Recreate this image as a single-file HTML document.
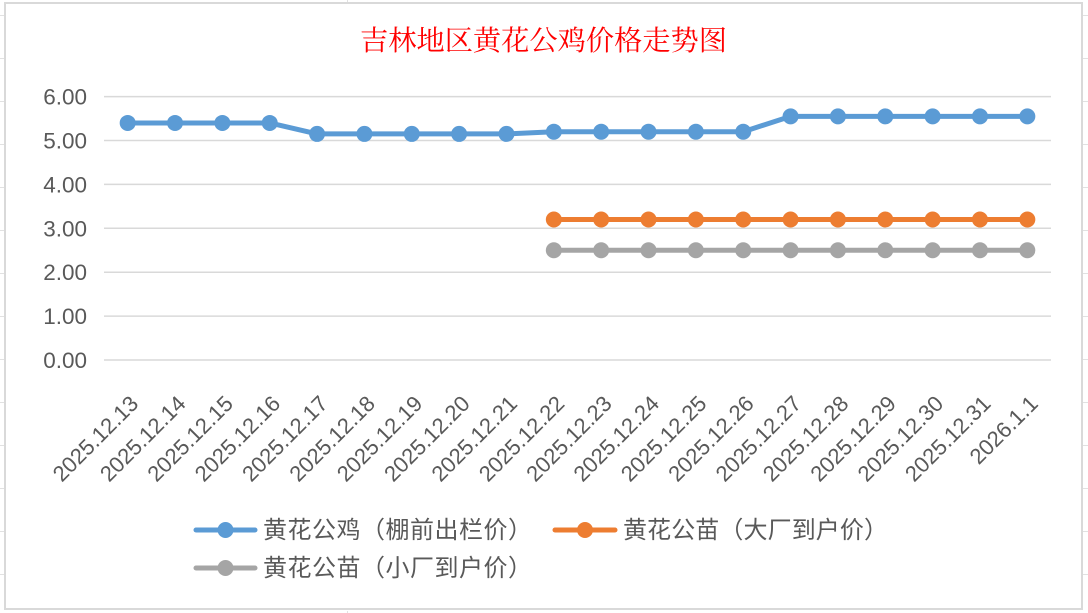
<!DOCTYPE html>
<html>
<head>
<meta charset="utf-8">
<style>
html,body{margin:0;padding:0;background:#fff;}
svg{display:block;}
.ylab{font-family:"Liberation Sans","Noto Sans CJK SC",sans-serif;font-size:22.5px;fill:#595959;}
.xlab{font-family:"Liberation Sans","Noto Sans CJK SC",sans-serif;font-size:22px;fill:#595959;}
.leg{font-family:"Liberation Sans","Noto Sans CJK SC",sans-serif;font-size:24px;fill:#595959;}
.title{font-family:"Liberation Serif","Noto Serif CJK SC",serif;font-size:28px;fill:#ff0000;}
</style>
</head>
<body>
<svg width="1088" height="613" viewBox="0 0 1088 613" xmlns="http://www.w3.org/2000/svg">
<g stroke="#e1e1e1" stroke-width="1">
<line x1="0" y1="15.5" x2="4" y2="15.5"/><line x1="0" y1="58.5" x2="4" y2="58.5"/><line x1="0" y1="101.5" x2="4" y2="101.5"/><line x1="0" y1="144.5" x2="4" y2="144.5"/><line x1="0" y1="187.5" x2="4" y2="187.5"/><line x1="0" y1="230.5" x2="4" y2="230.5"/><line x1="0" y1="273.5" x2="4" y2="273.5"/><line x1="0" y1="316.5" x2="4" y2="316.5"/><line x1="0" y1="359.5" x2="4" y2="359.5"/><line x1="0" y1="402.5" x2="4" y2="402.5"/><line x1="0" y1="445.5" x2="4" y2="445.5"/><line x1="0" y1="488.5" x2="4" y2="488.5"/><line x1="0" y1="531.5" x2="4" y2="531.5"/><line x1="0" y1="574.5" x2="4" y2="574.5"/>
<line x1="1083" y1="15.5" x2="1088" y2="15.5"/><line x1="1083" y1="58.5" x2="1088" y2="58.5"/><line x1="1083" y1="101.5" x2="1088" y2="101.5"/><line x1="1083" y1="144.5" x2="1088" y2="144.5"/><line x1="1083" y1="187.5" x2="1088" y2="187.5"/><line x1="1083" y1="230.5" x2="1088" y2="230.5"/><line x1="1083" y1="273.5" x2="1088" y2="273.5"/><line x1="1083" y1="316.5" x2="1088" y2="316.5"/><line x1="1083" y1="359.5" x2="1088" y2="359.5"/><line x1="1083" y1="402.5" x2="1088" y2="402.5"/><line x1="1083" y1="445.5" x2="1088" y2="445.5"/><line x1="1083" y1="488.5" x2="1088" y2="488.5"/><line x1="1083" y1="531.5" x2="1088" y2="531.5"/><line x1="1083" y1="574.5" x2="1088" y2="574.5"/>
<line x1="347.5" y1="0" x2="347.5" y2="2"/><line x1="347.5" y1="611" x2="347.5" y2="613"/>
</g>
<rect x="5" y="3" width="1077" height="606" fill="#fff" stroke="#d9d9d9" stroke-width="2"/>
<text class="title" x="360" y="50" textLength="367" lengthAdjust="spacingAndGlyphs">吉林地区黄花公鸡价格走势图</text>
<g stroke="#d9d9d9" stroke-width="1.5">
<line x1="104" y1="96.6" x2="1051" y2="96.6"/>
<line x1="104" y1="140.5" x2="1051" y2="140.5"/>
<line x1="104" y1="184.4" x2="1051" y2="184.4"/>
<line x1="104" y1="228.3" x2="1051" y2="228.3"/>
<line x1="104" y1="272.2" x2="1051" y2="272.2"/>
<line x1="104" y1="316.1" x2="1051" y2="316.1"/>
<line x1="104" y1="360" x2="1051" y2="360"/>
</g>
<g class="ylab" text-anchor="end">
<text x="87" y="104.6">6.00</text>
<text x="87" y="148.5">5.00</text>
<text x="87" y="192.4">4.00</text>
<text x="87" y="236.3">3.00</text>
<text x="87" y="280.2">2.00</text>
<text x="87" y="324.1">1.00</text>
<text x="87" y="368">0.00</text>
</g>
<g class="xlab" text-anchor="end">
<text transform="translate(139.7,405) rotate(-45)">2025.12.13</text>
<text transform="translate(187,405) rotate(-45)">2025.12.14</text>
<text transform="translate(234.4,405) rotate(-45)">2025.12.15</text>
<text transform="translate(281.7,405) rotate(-45)">2025.12.16</text>
<text transform="translate(329.1,405) rotate(-45)">2025.12.17</text>
<text transform="translate(376.4,405) rotate(-45)">2025.12.18</text>
<text transform="translate(423.8,405) rotate(-45)">2025.12.19</text>
<text transform="translate(471.1,405) rotate(-45)">2025.12.20</text>
<text transform="translate(518.5,405) rotate(-45)">2025.12.21</text>
<text transform="translate(565.8,405) rotate(-45)">2025.12.22</text>
<text transform="translate(613.2,405) rotate(-45)">2025.12.23</text>
<text transform="translate(660.5,405) rotate(-45)">2025.12.24</text>
<text transform="translate(707.9,405) rotate(-45)">2025.12.25</text>
<text transform="translate(755.2,405) rotate(-45)">2025.12.26</text>
<text transform="translate(802.6,405) rotate(-45)">2025.12.27</text>
<text transform="translate(849.9,405) rotate(-45)">2025.12.28</text>
<text transform="translate(897.3,405) rotate(-45)">2025.12.29</text>
<text transform="translate(944.6,405) rotate(-45)">2025.12.30</text>
<text transform="translate(992,405) rotate(-45)">2025.12.31</text>
<text transform="translate(1039.3,405) rotate(-45)">2026.1.1</text>
</g>
<g fill="#a5a5a5">
<polyline points="553.83,250.25 1027.33,250.25" fill="none" stroke="#a5a5a5" stroke-width="5" stroke-linejoin="round" stroke-linecap="round"/>
<circle cx="553.83" cy="250.25" r="8"/><circle cx="601.18" cy="250.25" r="8"/><circle cx="648.53" cy="250.25" r="8"/><circle cx="695.88" cy="250.25" r="8"/><circle cx="743.23" cy="250.25" r="8"/><circle cx="790.58" cy="250.25" r="8"/><circle cx="837.93" cy="250.25" r="8"/><circle cx="885.28" cy="250.25" r="8"/><circle cx="932.63" cy="250.25" r="8"/><circle cx="979.98" cy="250.25" r="8"/><circle cx="1027.33" cy="250.25" r="8"/>
</g>
<g fill="#ed7d31">
<polyline points="553.83,219.5 1027.33,219.5" fill="none" stroke="#ed7d31" stroke-width="5" stroke-linejoin="round" stroke-linecap="round"/>
<circle cx="553.83" cy="219.5" r="8"/><circle cx="601.18" cy="219.5" r="8"/><circle cx="648.53" cy="219.5" r="8"/><circle cx="695.88" cy="219.5" r="8"/><circle cx="743.23" cy="219.5" r="8"/><circle cx="790.58" cy="219.5" r="8"/><circle cx="837.93" cy="219.5" r="8"/><circle cx="885.28" cy="219.5" r="8"/><circle cx="932.63" cy="219.5" r="8"/><circle cx="979.98" cy="219.5" r="8"/><circle cx="1027.33" cy="219.5" r="8"/>
</g>
<g fill="#5b9bd5">
<polyline points="127.68,122.94 175.03,122.94 222.38,122.94 269.73,122.94 317.08,133.92 364.43,133.92 411.78,133.92 459.13,133.92 506.48,133.92 553.83,131.72 601.18,131.72 648.53,131.72 695.88,131.72 743.23,131.72 790.58,116.36 837.93,116.36 885.28,116.36 932.63,116.36 979.98,116.36 1027.33,116.36" fill="none" stroke="#5b9bd5" stroke-width="5" stroke-linejoin="round" stroke-linecap="round"/>
<circle cx="127.68" cy="122.94" r="8"/><circle cx="175.03" cy="122.94" r="8"/><circle cx="222.38" cy="122.94" r="8"/><circle cx="269.73" cy="122.94" r="8"/>
<circle cx="317.08" cy="133.92" r="8"/><circle cx="364.43" cy="133.92" r="8"/><circle cx="411.78" cy="133.92" r="8"/><circle cx="459.13" cy="133.92" r="8"/><circle cx="506.48" cy="133.92" r="8"/>
<circle cx="553.83" cy="131.72" r="8"/><circle cx="601.18" cy="131.72" r="8"/><circle cx="648.53" cy="131.72" r="8"/><circle cx="695.88" cy="131.72" r="8"/><circle cx="743.23" cy="131.72" r="8"/>
<circle cx="790.58" cy="116.36" r="8"/><circle cx="837.93" cy="116.36" r="8"/><circle cx="885.28" cy="116.36" r="8"/><circle cx="932.63" cy="116.36" r="8"/><circle cx="979.98" cy="116.36" r="8"/><circle cx="1027.33" cy="116.36" r="8"/>
</g>
<line x1="196" y1="530" x2="255" y2="530" stroke="#5b9bd5" stroke-width="5" stroke-linecap="round"/>
<circle cx="225.5" cy="530" r="8" fill="#5b9bd5"/>
<text class="leg" x="263" y="538" textLength="269" lengthAdjust="spacing">黄花公鸡（棚前出栏价）</text>
<line x1="555" y1="530" x2="615" y2="530" stroke="#ed7d31" stroke-width="5" stroke-linecap="round"/>
<circle cx="585" cy="530" r="8" fill="#ed7d31"/>
<text class="leg" x="623" y="538" textLength="265" lengthAdjust="spacing">黄花公苗（大厂到户价）</text>
<line x1="196" y1="568" x2="255" y2="568" stroke="#a5a5a5" stroke-width="5" stroke-linecap="round"/>
<circle cx="225.5" cy="568" r="8" fill="#a5a5a5"/>
<text class="leg" x="263" y="576" textLength="269" lengthAdjust="spacing">黄花公苗（小厂到户价）</text>
</svg>
</body>
</html>
